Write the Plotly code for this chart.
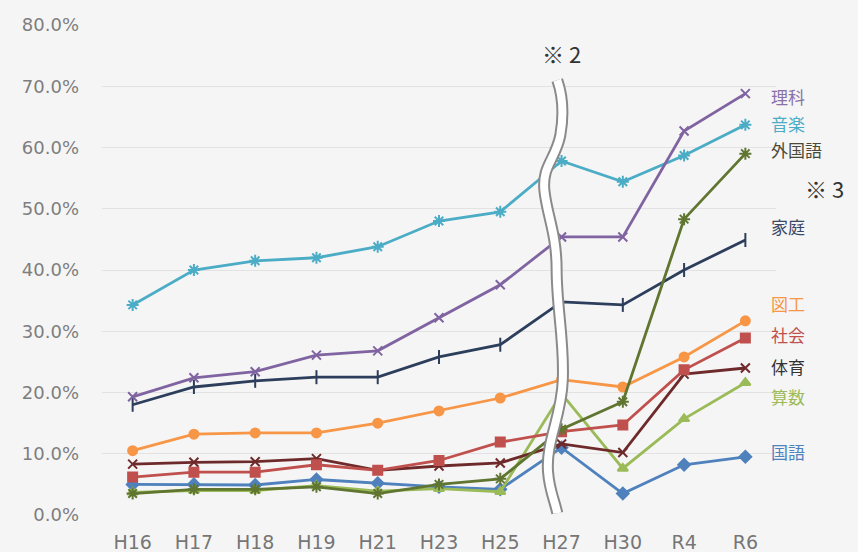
import plotly.graph_objects as go

categories = ["H16", "H17", "H18", "H19", "H21", "H23", "H25", "H27", "H30", "R4", "R6"]

rika     = [19.3, 22.4, 23.4, 26.1, 26.8, 32.2, 37.6, 45.4, 45.4, 62.7, 68.8]
ongaku   = [34.3, 40.0, 41.5, 42.0, 43.8, 48.0, 49.5, 57.8, 54.4, 58.7, 63.7]
gaikoku  = [3.5, 4.2, 4.2, 4.6, 3.5, 5.0, 5.9, 14.0, 18.5, 48.3, 59.0]
katei    = [18.0, 20.9, 21.9, 22.5, 22.5, 25.8, 27.8, 34.8, 34.3, 40.0, 44.9]
zuko     = [10.5, 13.2, 13.4, 13.4, 15.0, 17.0, 19.1, 22.1, 20.9, 25.8, 31.7]
shakai   = [6.2, 7.0, 7.0, 8.2, 7.3, 8.9, 11.9, 13.6, 14.7, 23.7, 28.9]
taiiku   = [8.3, 8.6, 8.7, 9.2, 7.3, 8.0, 8.5, 11.6, 10.2, 23.0, 24.0]
sansu    = [3.7, 4.0, 4.0, 4.8, 3.9, 4.3, 3.8, 19.8, 7.6, 15.7, 21.6]
kokugo   = [5.0, 5.0, 4.9, 5.8, 5.2, 4.6, 4.2, 11.0, 3.5, 8.2, 9.5]

y_ticks = [0, 10, 20, 30, 40, 50, 60, 70, 80]

series = [
    ("理科", rika, "#8064A2", "x-thin", 9, "#8a72a8", 68.3),
    ("音楽", ongaku, "#4BACC6", "asterisk", 10, "#4BACC6", 63.9),
    ("外国語", gaikoku, "#5F7530", "asterisk", 10, "#4a4a3a", 59.6),
    ("家庭", katei, "#2C3E5C", "line-ns", 10, "#3a4766", 47.1),
    ("図工", zuko, "#F79646", "circle", 9, "#F79646", 34.5),
    ("社会", shakai, "#C0504D", "square", 9, "#C0504D", 29.4),
    ("体育", taiiku, "#6E2A2A", "x-thin", 9, "#333333", 24.2),
    ("算数", sansu, "#9BBB59", "triangle-up", 9, "#9BBB59", 19.3),
    ("国語", kokugo, "#4F81BD", "diamond", 9, "#4F81BD", 10.3),
]

xs = list(range(len(categories)))
fig = go.Figure()
order = ["国語", "算数", "体育", "社会", "図工", "家庭", "外国語", "音楽", "理科"]
smap = {s[0]: s for s in series}
for name in order:
    n, vals, col, sym, sz, lcol, ly = smap[name]
    fig.add_trace(go.Scatter(
        x=xs, y=vals, mode="lines+markers", name=n,
        line=dict(color=col, width=2.8),
        marker=dict(symbol=sym, size=sz, color=col,
                    line=dict(color=col, width=2)),
        hoverinfo="skip", showlegend=False))

for n, vals, col, sym, sz, lcol, ly in series:
    fig.add_annotation(x=xs[-1], y=ly, text=n, showarrow=False,
                       xanchor="left", yanchor="middle", xshift=24,
                       font=dict(family="Noto Sans CJK JP", size=17, color=lcol))

# break marker (wavy double line)
path = ("M 6.93,71 C 7.0,69 7.05,66 6.98,62 C 6.9,58 6.68,57 6.72,53 "
        "C 6.76,49 6.92,46 6.92,40 C 6.92,34 7.05,28 7.02,22 "
        "C 7.0,16 6.74,12 6.78,7 C 6.8,4 6.9,2 6.93,0.3")
fig.add_shape(type="path", path=path, xref="x", yref="y",
              line=dict(color="#8a8a8a", width=12), layer="above")
fig.add_shape(type="path", path=path, xref="x", yref="y",
              line=dict(color="#ffffff", width=8), layer="above")

fig.add_annotation(x=7, y=75.5, text="※ 2", showarrow=False,
                   font=dict(family="Noto Sans CJK JP", size=22, color="#333333"))
fig.add_annotation(x=10, y=53.4, text="※ 3", showarrow=False,
                   xanchor="left", xshift=58,
                   font=dict(family="Noto Sans CJK JP", size=22, color="#333333"))

fig.update_layout(
    width=858, height=552,
    margin=dict(l=102, r=82, t=25, b=37),
    paper_bgcolor="#f5f5f5", plot_bgcolor="#f5f5f5",
    xaxis=dict(range=[-0.5, 10.5], tickvals=xs, ticktext=categories,
               showgrid=False, zeroline=False, showline=False,
               automargin=False,
               tickfont=dict(family="DejaVu Sans", size=19, color="#767676"),
               ticks="", ticklabelstandoff=14),
    yaxis=dict(range=[0, 80], tickvals=y_ticks,
               ticktext=[f"{v:.1f}%" for v in y_ticks],
               showgrid=True, gridcolor="#e2e2e2", gridwidth=1,
               zeroline=False, showline=False, automargin=False,
               tickfont=dict(family="DejaVu Sans", size=18, color="#7e7e7e"),
               ticks="", ticklabelstandoff=22),
)

fig.write_html("out.html",
               config={"displayModeBar": False},
               post_script="document.body.style.margin='0';"
                           "document.body.style.background='#f5f5f5';")
